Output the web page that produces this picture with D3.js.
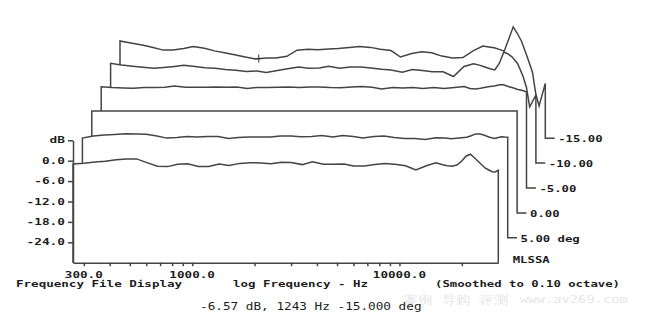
<!DOCTYPE html>
<html>
<head>
<meta charset="utf-8">
<script src="https://cdn.jsdelivr.net/npm/d3@7/dist/d3.min.js"></script>
<style>
  body { margin: 0; background: #fff; }
  svg { display: block; }
  text { font-family: "DejaVu Sans Mono", "Liberation Mono", monospace; fill: #1c1c1c; }
</style>
</head>
<body>
<svg width="650" height="332"></svg>
<script>
// Частоты (Гц), общие для всех кривых
const freqHz = [266, 300, 340, 380, 430, 480, 540, 600, 680, 760,
    850, 950, 1070, 1200, 1350, 1500, 1700, 1900, 2150, 2400,
    2700, 3000, 3400, 3800, 4300, 4800, 5400, 6000, 6800, 7600,
    8500, 9500, 10700, 12000, 13500, 15000, 16000, 17000, 18000, 19000,
    20000, 21000, 22000, 23000, 24500, 26000, 27000, 28000, 29000, 30000];

// Уровни (дБ) - от передней кривой к задней
const dbFront = [-0.97, -0.74, -0.38, -0.15, 0.26, 0.47, 0.53, -0.5, -1.65, -1.74,
    -1.06, -0.91, -1.7, -1.7, -0.97, -1.44, -0.79, -0.59, -0.65, -0.88,
    -0.47, -0.53, -1.15, -0.35, -1.06, -1.06, -0.97, -1.56, -1.56, -1.15,
    -0.8, -1.06, -1.5, -2.74, -1.47, -0.62, -1.09, -1.5, -1.62, -1.2,
    -0.09, 1.4, 1.9, 0.85, -0.74, -2.2, -2.74, -3.26, -3.29, -2.82];
const db5 = [-0.68, -0.09, 0.2, 0.41, 0.59, 0.56, 0.44, 0, -0.68, -0.53,
    -0.18, -0.32, -0.24, -0.18, -0.82, -0.53, -0.38, -0.32, -0.38, -0.09,
    -0.09, -0.29, -0.18, 0.06, -0.38, 0.06, -0.24, -0.68, -0.24, -0.09,
    -0.53, -0.76, -0.76, -1.12, -0.56, -0.62, -0.9, -0.74, -0.6, -0.44,
    0.03, 0.56, 0.53, 0.24, -0.44, -0.82, -0.5, -0.29, -0.38, -0.44];
const db0 = [0, 0, 0, 0, 0, 0, 0, 0, 0, 0,
    0, 0, 0, 0, 0, 0, 0, 0, 0, 0,
    0, 0, 0, 0, 0, 0, 0, 0, 0, 0,
    0, 0, 0, 0, 0, 0, 0, 0, 0, 0,
    0, 0, 0, 0, 0, 0, 0, 0, 0, 0];
const dbMinus5 = [-0.21, -0.47, -0.59, -0.68, -0.47, -0.41, -0.35, 0, -0.38, -0.35,
    -0.38, -0.29, -0.38, -0.29, -0.74, -0.44, -0.41, -0.38, -0.29, -0.47,
    -0.29, -0.29, -0.44, -0.5, -0.29, -0.15, -0.35, -0.88, -0.44, -0.59,
    -0.44, -0.74, -0.44, -0.74, -0.44, -0.15, -0.74, -0.88, -0.68, -0.38,
    -0.15, 0, 0.29, 0.44, -0.15, -0.59, -0.97, -1.18, -1.41, -1.76];
const dbMinus10 = [-0.65, -1.18, -1.53, -1.82, -2.12, -1.88, -1.56, -1.24, -1.59, -1.97,
    -2.09, -2.47, -2.68, -3.06, -2.9, -3.38, -2.76, -2.26, -1.74, -2.12,
    -2.03, -1.53, -2.12, -1.74, -1.74, -2.03, -2.38, -2.62, -3.24, -2.47,
    -2.76, -3.12, -3.12, -4.53, -1.56, -0.82, -1.18, -1.74, -2.26, -2.59,
    -0.62, 2.68, 2.09, 1.26, -0.76, -4.44, -7.7, -13.5, -11.7, -9.97];
const dbMinus15 = [-1.41, -1.97, -2.62, -3.24, -4.09, -4.06, -3.59, -3.06, -3.56, -4.32,
    -4.88, -5.44, -6.12, -6.7, -6.41, -6.38, -5.91, -4.12, -3.85, -4.0,
    -3.79, -3.65, -3.32, -3.03, -3.29, -3.82, -4.21, -6.12, -5.09, -4.56,
    -4.85, -5.85, -6.38, -6.29, -4.24, -2.91, -3.15, -3.41, -3.88, -4.4,
    -0.82, 2.75, 0.79, -1.41, -5.94, -10.5, -17.0, -20.5, -17.1, -13.9];

const curveLabels = ["", "5.00 deg", "0.00", "-5.00", "-10.00", "-15.00"];

// Оси
const yTickValues = [6, 0, -6, -12, -18, -24];
const yTickLabels = ["dB", "0.0", "-6.0", "-12.0", "-18.0", "-24.0"];
const xTickValues = [300, 400, 500, 600, 700, 800, 900, 1000, 2000, 3000,
    4000, 5000, 6000, 7000, 8000, 9000, 10000, 20000];
const xLabelValues = [300, 1000, 10000];
const xLabels = ["300.0", "1000.0", "10000.0"];

// Курсор на задней кривой
const cursorFreq = 1243;
const cursorDb = -6.57;

const lineColor = "#444";

function addText(svg, str, x, y, size, weight, charW, color) {
    svg.append("text")
        .attr("x", x)
        .attr("y", y)
        .attr("font-size", size)
        .attr("font-weight", weight)
        .attr("textLength", str.length * charW)
        .attr("lengthAdjust", "spacingAndGlyphs")
        .style("fill", color || null)
        .text(str);
}

function drawGraph() {
    let svg = d3.select("svg");
    svg.selectAll('*').remove();

    let attr_area = {
        left: 73,
        right: 498.3,
        top: 140.3,
        bottom: 262.7,
        stepX: 9.4,   // сдвиг каждой следующей кривой вправо
        stepY: 24.9   // и вверх
    };

    let scX = d3.scaleLog()
                .domain([266, 30000])
                .range([attr_area.left, attr_area.right]);
    let scY = d3.scaleLinear()
                .domain([-30, 6])
                .range([attr_area.bottom, attr_area.top]);

    let series = [dbFront, db5, db0, dbMinus5, dbMinus10, dbMinus15];

    createChart(svg, series, scX, scY, attr_area);
    createAxis(svg, scX, scY, attr_area);
    createTexts(svg);
}

function createChart(svg, series, scX, scY, attr_area) {
    const yBase = scY(-30);
    const line = d3.line().x(d => d[0]).y(d => d[1]);

    // рисуем сзади вперёд, белая заливка прячет линии задних кривых
    for (let k = series.length - 1; k >= 0; k--) {
        let pts = freqHz.map((f, i) => [scX(f), scY(series[k][i])]);
        let x0 = pts[0][0];
        let xN = pts[pts.length - 1][0];

        let g = svg.append("g")
            .attr("transform", `translate(${k * attr_area.stepX}, ${-k * attr_area.stepY})`);

        g.append("path")
            .attr("d", line([[x0, yBase]].concat(pts, [[xN, yBase]])) + "Z")
            .style("fill", "#fff")
            .style("stroke", "none");

        let outline = [[x0, yBase]].concat(pts, [[xN, yBase]]);
        if (k > 0) outline.push([xN + attr_area.stepX, yBase]);

        g.append("path")
            .attr("d", line(outline))
            .style("fill", "none")
            .style("stroke", lineColor)
            .style("stroke-width", 1.5);

        if (curveLabels[k] != "") {
            addText(g, curveLabels[k], xN + attr_area.stepX + 3.5, yBase + 4, 9, "bold", 7.4);
        }

        if (k == series.length - 1) {
            let cx = scX(cursorFreq), cy = scY(cursorDb);
            g.append("path")
                .attr("d", `M${cx - 3.5},${cy}H${cx + 3.5}M${cx},${cy - 4}V${cy + 4}`)
                .style("stroke", "#333")
                .style("stroke-width", 1);
        }
    }
}

function createAxis(svg, scX, scY, attr_area) {
    let axisX = d3.axisBottom(scX)
        .tickValues(xTickValues)
        .tickSize(3.5)
        .tickSizeOuter(0)
        .tickFormat("");
    let axisY = d3.axisLeft(scY)
        .tickValues(yTickValues)
        .tickSize(5)
        .tickSizeOuter(0)
        .tickFormat("");

    let gx = svg.append("g")
        .attr("transform", `translate(0, ${attr_area.bottom})`)
        .call(axisX);
    let gy = svg.append("g")
        .attr("transform", `translate(${attr_area.left}, 0)`)
        .call(axisY);

    [gx, gy].forEach(g => {
        g.selectAll("path, line")
            .attr("stroke", lineColor)
            .attr("stroke-width", 1.5);
    });

    // подписи оси Y
    yTickValues.forEach((v, i) => {
        let s = yTickLabels[i];
        addText(svg, s, 65 - s.length * 7.7, scY(v) + 3, 9, "bold", 7.7);
    });

    // подписи оси X
    xLabelValues.forEach((v, i) => {
        let s = xLabels[i];
        addText(svg, s, scX(v) - s.length * 7.6 / 2, 278, 9, "bold", 7.6);
    });
}

function createTexts(svg) {
    // водяной знак сайта
    addText(svg, "案例 导购 评测", 404, 304, 12, "normal", 13, "#e6e6e6");
    addText(svg, "www.av269.com", 520, 303, 11, "normal", 8.3, "#e6e6e6");

    addText(svg, "MLSSA", 512.7, 262.5, 9, "bold", 7.4);
    addText(svg, "Frequency File Display", 16, 287, 9, "bold", 7.55);
    addText(svg, "log Frequency - Hz", 233, 287, 9, "bold", 7.5);
    addText(svg, "(Smoothed to 0.10 octave)", 435, 287, 9, "bold", 7.4);
    addText(svg, "-6.57 dB, 1243 Hz -15.000 deg", 200, 309.5, 10, "normal", 7.64);
}

drawGraph();
</script>
</body>
</html>
